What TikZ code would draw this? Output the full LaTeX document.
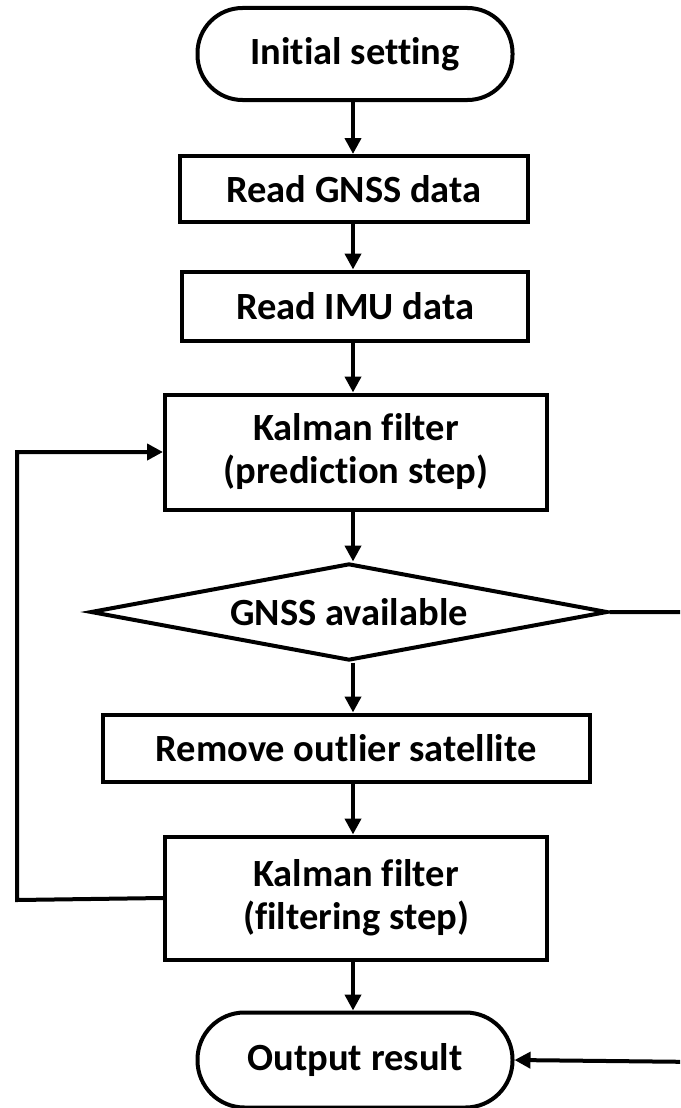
\documentclass[tikz,border=0pt]{standalone}
\usepackage{fontspec}
\setmainfont{Carlito}[Ligatures={NoCommon}]
\usetikzlibrary{shapes.geometric,arrows.meta}
\begin{document}
\begin{tikzpicture}[x=1pt,y=-1pt,
  every node/.style={font=\bfseries\fontsize{38.5}{43}\selectfont, align=center, inner sep=0pt},
  term/.style={draw, line width=4pt, rounded corners=45pt, minimum width=315pt, minimum height=92pt},
  procbox/.style={draw, line width=4pt},
  decide/.style={draw, line width=4pt, diamond, aspect=5, minimum width=517pt, minimum height=97pt},
  arr/.style={line width=4pt, -{Triangle[length=16pt,width=16pt]}}]
\useasboundingbox (0,0) rectangle (680,1108);
\clip (0,0) rectangle (680,1108);
\node[term] (init) at (355,54) {Initial setting};
\node[procbox, minimum width=348pt, minimum height=66pt] (gnss) at (354,189) {Read GNSS data};
\node[procbox, minimum width=346pt, minimum height=69pt] (imu) at (355,306) {Read IMU data};
\node[procbox, minimum width=382pt, minimum height=115pt] (pred) at (356,452) {Kalman filter\\(prediction step)};
\node[decide] (avail) at (349,612) {GNSS available};
\node[procbox, minimum width=487pt, minimum height=67pt] (remove) at (346,748) {Remove outlier satellite};
\node[procbox, minimum width=382pt, minimum height=123pt] (filt) at (356,898) {Kalman filter\\(filtering step)};
\node[term, minimum height=95pt, rounded corners=47pt] (out) at (355,1060) {Output result};
\coordinate (lft1) at (17,900);
\coordinate (lft2) at (17,452);
\coordinate (rgt1) at (700,612);
\coordinate (rgt2) at (700,1062);
\draw[arr] (init.south -| 353,0) -- (353,0 |- gnss.north);
\draw[arr] (gnss.south -| 353,0) -- (353,0 |- imu.north);
\draw[arr] (imu.south -| 353,0) -- (353,0 |- pred.north);
\draw[arr] (pred.south -| 353,0) -- (353,0 |- avail.north);
\draw[arr] (avail.south -| 353,0) -- (353,0 |- remove.north);
\draw[arr] (remove.south -| 353,0) -- (353,0 |- filt.north);
\draw[arr] (filt.south -| 353,0) -- (353,0 |- out.north);
\draw[arr] (filt.west) -- (lft1) -- (lft2) -- (pred.west);
\draw[arr] (avail.east) -- (rgt1) -- (rgt2) -- (out.east);
\end{tikzpicture}
\end{document}
